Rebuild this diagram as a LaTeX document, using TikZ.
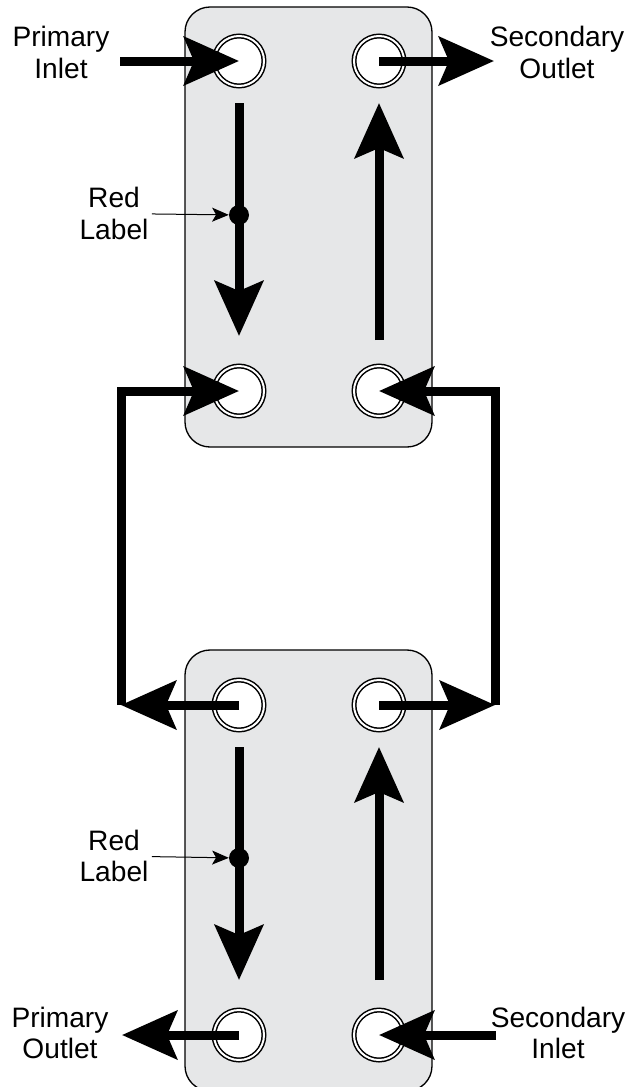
\documentclass[tikz,border=0pt]{standalone}
\usepackage{fontspec}
\setmainfont{Liberation Sans}
\usetikzlibrary{arrows.meta}
\definecolor{plategray}{RGB}{230,231,232}
\tikzset{
    plate/.style={draw=black, line width=0.04cm, fill=plategray, rounded corners=0.75cm},
    port/.style={circle, draw=black, line width=0.045cm, double=white, double distance=0.06cm,
        fill=white, inner sep=0pt, minimum size=1.5cm},
    flow/.style={line width=0.27cm, -{Stealth[length=1.65cm, width=1.45cm, inset=0.3cm]}},
    dot/.style={circle, fill=black, inner sep=0pt, minimum size=0.6cm},
    pointer/.style={line width=0.03cm, -{Stealth[length=0.5cm, width=0.42cm, inset=0.12cm]}},
    flowtext/.style={align=center, font=\fontsize{24}{27}\selectfont, inner sep=0.1cm}
}
\begin{document}
\begin{tikzpicture}[x=0.03cm, y=-0.03cm]
    \useasboundingbox (0,0) rectangle (634,1087);
    \begin{scope}
    \draw[plate] (185,7) rectangle (432,447);
    \draw[plate] (185,650) rectangle (432,1091);
    \end{scope}
    \node[port] (p1) at (239,61) {};
    \node[port] (p2) at (379,61) {};
    \node[port] (p3) at (239,391) {};
    \node[port] (p4) at (379,391) {};
    \node[port] (p5) at (239,705) {};
    \node[port] (p6) at (379,705) {};
    \node[port] (p7) at (239,1035) {};
    \node[port] (p8) at (379,1035) {};
    \coordinate (pin) at (120,61);
    \coordinate (sout) at (494,61);
    \coordinate (cl) at (121,705);
    \coordinate (cr) at (495,705);
    \coordinate (pout) at (122,1035);
    \coordinate (sin) at (496,1035);
    \begin{scope}
    \draw[flow] (pin) -- (p1.center);
    \draw[flow] (p2.center) -- (sout);
    \draw[flow, shorten <=1.26cm, shorten >=1.65cm] (p1.center) -- (p3.center);
    \draw[flow, shorten <=1.53cm, shorten >=1.26cm] (p4.center) -- (p2.center);
    \draw[flow] (p5.center) -- (cl);
    \draw[flow] (cl) |- (p3.center);
    \draw[flow] (p6.center) -- (cr);
    \draw[flow] (cr) |- (p4.center);
    \draw[flow, shorten <=1.26cm, shorten >=1.65cm] (p5.center) -- (p7.center);
    \draw[flow, shorten <=1.65cm, shorten >=1.26cm] (p8.center) -- (p6.center);
    \draw[flow] (p7.center) -- (pout);
    \draw[flow] (sin) -- (p8.center);
    \end{scope}
    \node[dot] (d1) at (239,215) {};
    \node[dot] (d2) at (239,858) {};
    \node[flowtext] (t1) at (61,52.5) {Primary\\Inlet};
    \node[flowtext] (t2) at (557,52.5) {Secondary\\Outlet};
    \node[flowtext] (r1) at (114,213.5) {Red\\Label};
    \node[flowtext] (r2) at (114,856) {Red\\Label};
    \node[flowtext] (t3) at (60,1033) {Primary\\Outlet};
    \node[flowtext] (t4) at (558,1033) {Secondary\\Inlet};
    \draw[pointer] (r1) -- (d1);
    \draw[pointer] (r2) -- (d2);
\end{tikzpicture}
\end{document}
